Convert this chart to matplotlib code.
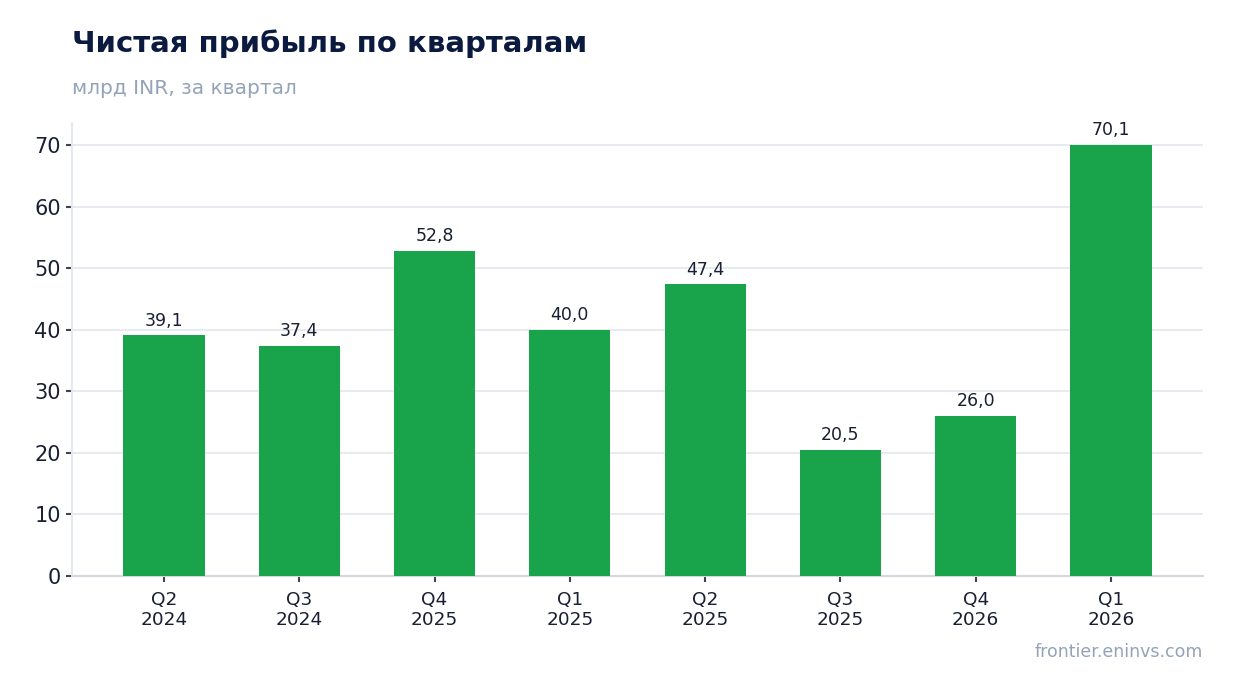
import matplotlib
matplotlib.use('Agg')
import matplotlib.pyplot as plt
import numpy as np

plt.rcParams['font.family'] = ['DejaVu Sans']

# Данные
quarters = ['Q2\n2024', 'Q3\n2024', 'Q4\n2025', 'Q1\n2025', 'Q2\n2025', 'Q3\n2025', 'Q4\n2026', 'Q1\n2026']
profit = [39.1, 37.4, 52.8, 40.0, 47.4, 20.5, 26.0, 70.1]
yTicks = [0, 10, 20, 30, 40, 50, 60, 70]

green = '#19a34a'
navy = '#0b1a3f'
gray = '#94a3b8'
textDark = '#1a1f33'
gridColor = '#e5e8ed'

fig = plt.figure(figsize=(12.34, 6.93), dpi=100)
ax = fig.add_axes([0.0583, 0.1688, 0.9166, 0.6537])

x = np.arange(len(quarters))
bars = ax.bar(x, profit, width=0.6, color=green, zorder=3)

for bar, value in zip(bars, profit):
    ax.annotate(f'{value:.1f}'.replace('.', ','),
                (bar.get_x() + bar.get_width() / 2, bar.get_height()),
                xytext=(0, 4), textcoords='offset points',
                ha='center', va='bottom', fontsize=12.5, color=textDark)

ax.set_xlim(-0.68, len(quarters) - 1 + 0.68)
ax.set_ylim(0, max(profit) * 1.05)
ax.set_xticks(x)
ax.set_xticklabels(quarters, fontsize=13.3, color=textDark)
ax.set_yticks(yTicks)
ax.set_yticklabels([str(t) for t in yTicks], fontsize=15, color=textDark)
ax.tick_params(axis='both', colors='#3f4356', length=4.5, width=1.5, labelcolor=textDark)
ax.tick_params(axis='x', pad=6)

ax.grid(axis='y', color=gridColor, linewidth=1.3, zorder=0)
ax.set_axisbelow(True)
for side in ('top', 'right'):
    ax.spines[side].set_visible(False)
ax.spines['left'].set_color(gridColor)
ax.spines['left'].set_linewidth(1.5)
ax.spines['bottom'].set_color('#d3d8e0')
ax.spines['bottom'].set_linewidth(1.5)

fig.text(0.0583, 0.9365, 'Чистая прибыль по кварталам', fontsize=21, fontweight='bold',
         color=navy, ha='left', va='center')
fig.text(0.0583, 0.873, 'млрд INR, за квартал', fontsize=14.5, color=gray, ha='left', va='center')
fig.text(0.9749, 0.059, 'frontier.eninvs.com', fontsize=12.5, color=gray, ha='right', va='center')

fig.savefig('out.png', dpi=100)
